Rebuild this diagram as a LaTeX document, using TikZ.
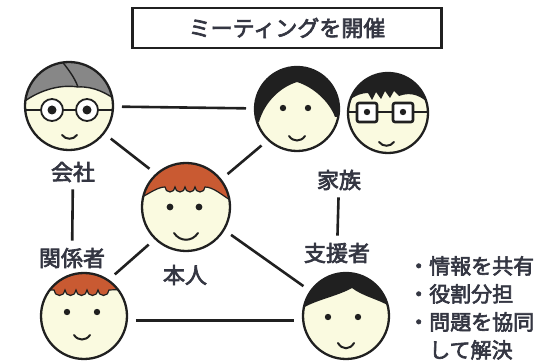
\documentclass[tikz,border=0pt]{standalone}
\usepackage{fontspec}
\setmainfont{Noto Sans CJK JP}[FakeBold = 3]
\usetikzlibrary{positioning}
\definecolor{skin}{RGB}{250,250,224}
\definecolor{ink}{RGB}{32,32,32}
\definecolor{textink}{RGB}{52,54,66}
\definecolor{redhair}{RGB}{201,90,50}
\definecolor{grayhair}{RGB}{135,135,135}

\begin{document}
\begin{tikzpicture}[x = 1pt, y = -1pt,
  face/.style = {circle, fill = skin, inner sep = 0pt, outer sep = 0pt, minimum size = #1},
  outline/.style = {draw = ink, line width = 2.3pt},
  link/.style = {draw = ink, line width = 2.6pt, shorten < = 9pt, shorten > = 9pt},
  who/.style = {text = textink, font = \fontsize{22}{22}\selectfont, inner sep = 1pt},
  frame/.style = {draw = ink, line width = 1.8pt},
  mouth/.style = {draw = ink, line width = 2pt, line cap = round}]
\useasboundingbox (0,0) rectangle (555,363);

\node[draw = ink, line width = 2.5pt, fill = white, minimum width = 309pt, minimum height = 40pt, text = textink, font = \fontsize{22}{22}\selectfont] (title) at (287,28) {ミーティングを開催};

% kaisha
\begin{scope}[shift = {(69,106)}]
\node[face = 88pt] (kaisha) {};
\begin{scope}
\clip (0,0) circle (44);
\filldraw[fill = grayhair, draw = ink, line width = 1.4pt] (-50,-5) -- (-44,-5) .. controls (-30,-15) and (-10,-22) .. (9,-19) .. controls (25,-20) and (38,-12) .. (44,-8) -- (50,-8) -- (50,-50) -- (-50,-50) -- cycle;
\draw[ink, line width = 1.4pt] (9,-19) .. controls (5,-30) and (-2,-38) .. (-8,-46);
\end{scope}
\draw[outline] (0,0) circle (44);
\draw[frame, fill = white] (-17,4) circle (11) (18,4) circle (11);
\draw[frame] (-28,4) -- (-44,4) (29,4) -- (44,4) (-6,4) -- (7,4);
\fill[ink] (-17,4) circle (4.5) (18,4) circle (4.5);
\draw[mouth] (-7,29) .. controls (-3,34) and (4,34) .. (8,29);
\end{scope}

% haha
\begin{scope}[shift = {(297,109)}]
\node[face = 84pt] (haha) {};
\begin{scope}
\clip (0,0) circle (42);
\fill[ink] (-50,16) -- (-38,13) .. controls (-32,-8) and (-16,-22) .. (0,-27) .. controls (16,-22) and (32,-8) .. (38,8) -- (50,8) -- (50,-50) -- (-50,-50) -- cycle;
\end{scope}
\draw[outline] (0,0) circle (42);
\fill[ink] (-14,-1) circle (3.2) (11,-1) circle (3.2);
\draw[mouth] (-8,27) .. controls (-4,33) and (4,33) .. (8,27);
\end{scope}

% megane
\begin{scope}[shift = {(388,113)}]
\node[face = 80pt] (megane) {};
\begin{scope}
\clip (0,0) circle (40);
\fill[ink] (-50,-10) -- (-40,-12) .. controls (-32,-18) and (-26,-20) .. (-20,-20) -- (-16,-13) -- (-12,-21) -- (-7,-14) -- (-3,-22) -- (2,-15) -- (6,-22) -- (11,-17) .. controls (24,-22) and (34,-16) .. (40,-10) -- (50,-10) -- (50,-50) -- (-50,-50) -- cycle;
\end{scope}
\draw[outline] (0,0) circle (40);
\draw[frame, line width = 2.6pt, fill = white, rounded corners = 2pt] (-31,-10) rectangle (-11,9) (5,-10) rectangle (25,9);
\draw[frame] (-11,-1) -- (5,-1) (-31,-1) -- (-40,-1) (25,-1) -- (40,-1);
\fill[ink] (-21,-1) circle (3.2) (15,-1) circle (3.2);
\draw[mouth] (-9,29) .. controls (-5,34) and (2,34) .. (6,29);
\end{scope}

% honnin
\begin{scope}[shift = {(186,207)}]
\node[face = 88pt] (honnin) {};
\begin{scope}
\clip (0,0) circle (44);
\filldraw[fill = redhair, draw = ink, line width = 1.2pt] (-50,-10) -- (-44,-10) .. controls (-36,-14) and (-28,-20) .. (-21,-20) arc (180:0:5) arc (180:0:5) arc (180:0:5) arc (180:0:5) .. controls (27,-20) and (36,-12) .. (44,-7) -- (50,-7) -- (50,-50) -- (-50,-50) -- cycle;
\end{scope}
\draw[outline] (0,0) circle (44);
\fill[ink] (-16,0) circle (3.4) (13,0) circle (3.4);
\draw[mouth] (-12,26) .. controls (-6,35) and (6,35) .. (12,26);
\end{scope}

% kankei
\begin{scope}[shift = {(84,316)}]
\node[face = 86pt] (kankei) {};
\begin{scope}
\clip (0,0) circle (43);
\filldraw[fill = redhair, draw = ink, line width = 1.2pt] (-50,-27) -- (-36,-26) -- (-30,-26) arc (180:0:5.5) arc (180:0:5.5) arc (180:0:5.5) arc (180:0:5.5) arc (180:0:5.5) -- (50,-27) -- (50,-50) -- (-50,-50) -- cycle;
\end{scope}
\draw[outline] (0,0) circle (43);
\fill[ink] (-17,-4) circle (3.2) (13,-4) circle (3.2);
\draw[mouth] (-10,19) .. controls (-6,25) and (2,25) .. (6,19);
\end{scope}

% shien
\begin{scope}[shift = {(346,316)}]
\node[face = 86pt] (shien) {};
\begin{scope}
\clip (0,0) circle (43);
\fill[ink] (-50,-6) -- (-43,-8) .. controls (-30,-16) and (-8,-20) .. (6,-28) .. controls (16,-20) and (34,-16) .. (43,-10) -- (50,-10) -- (50,-50) -- (-50,-50) -- cycle;
\end{scope}
\draw[outline] (0,0) circle (43);
\fill[ink] (-18,1) circle (3.2) (12,1) circle (3.2);
\draw[mouth] (-8,27) .. controls (-4,34) and (4,34) .. (8,27);
\end{scope}

\node[who] (kaishal) at (73,172) {会社};
\node[who] (kazokul) at (339,180) {家族};
\node[who] (honninl) at (185,275) {本人};
\node[who] (kankeil) at (72,258) {関係者};
\node[who] (shienl) at (337,253) {支援者};

\node[who, font = \fontsize{21}{28}\selectfont, align = left, anchor = north west] (points) at (407,255) {・情報を共有\\・役割分担\\・問題を協同\\　して解決};

\draw[link] (kaisha) -- (haha);
\draw[link] (kaisha.322) -- (honnin.132);
\draw[link] (honnin.38) -- (haha.227);
\draw[link] (honnin.226) -- (kankei.56);
\draw[link] (honnin.329) -- (shien.145);
\draw[link] (kankei.-6) -- (shien.186);
\draw[link, shorten < = 6pt, shorten > = 6pt] (kaishal) -- (kankeil);
\draw[link, shorten < = 6pt, shorten > = 6pt] (kazokul) -- (shienl);
\end{tikzpicture}
\end{document}
